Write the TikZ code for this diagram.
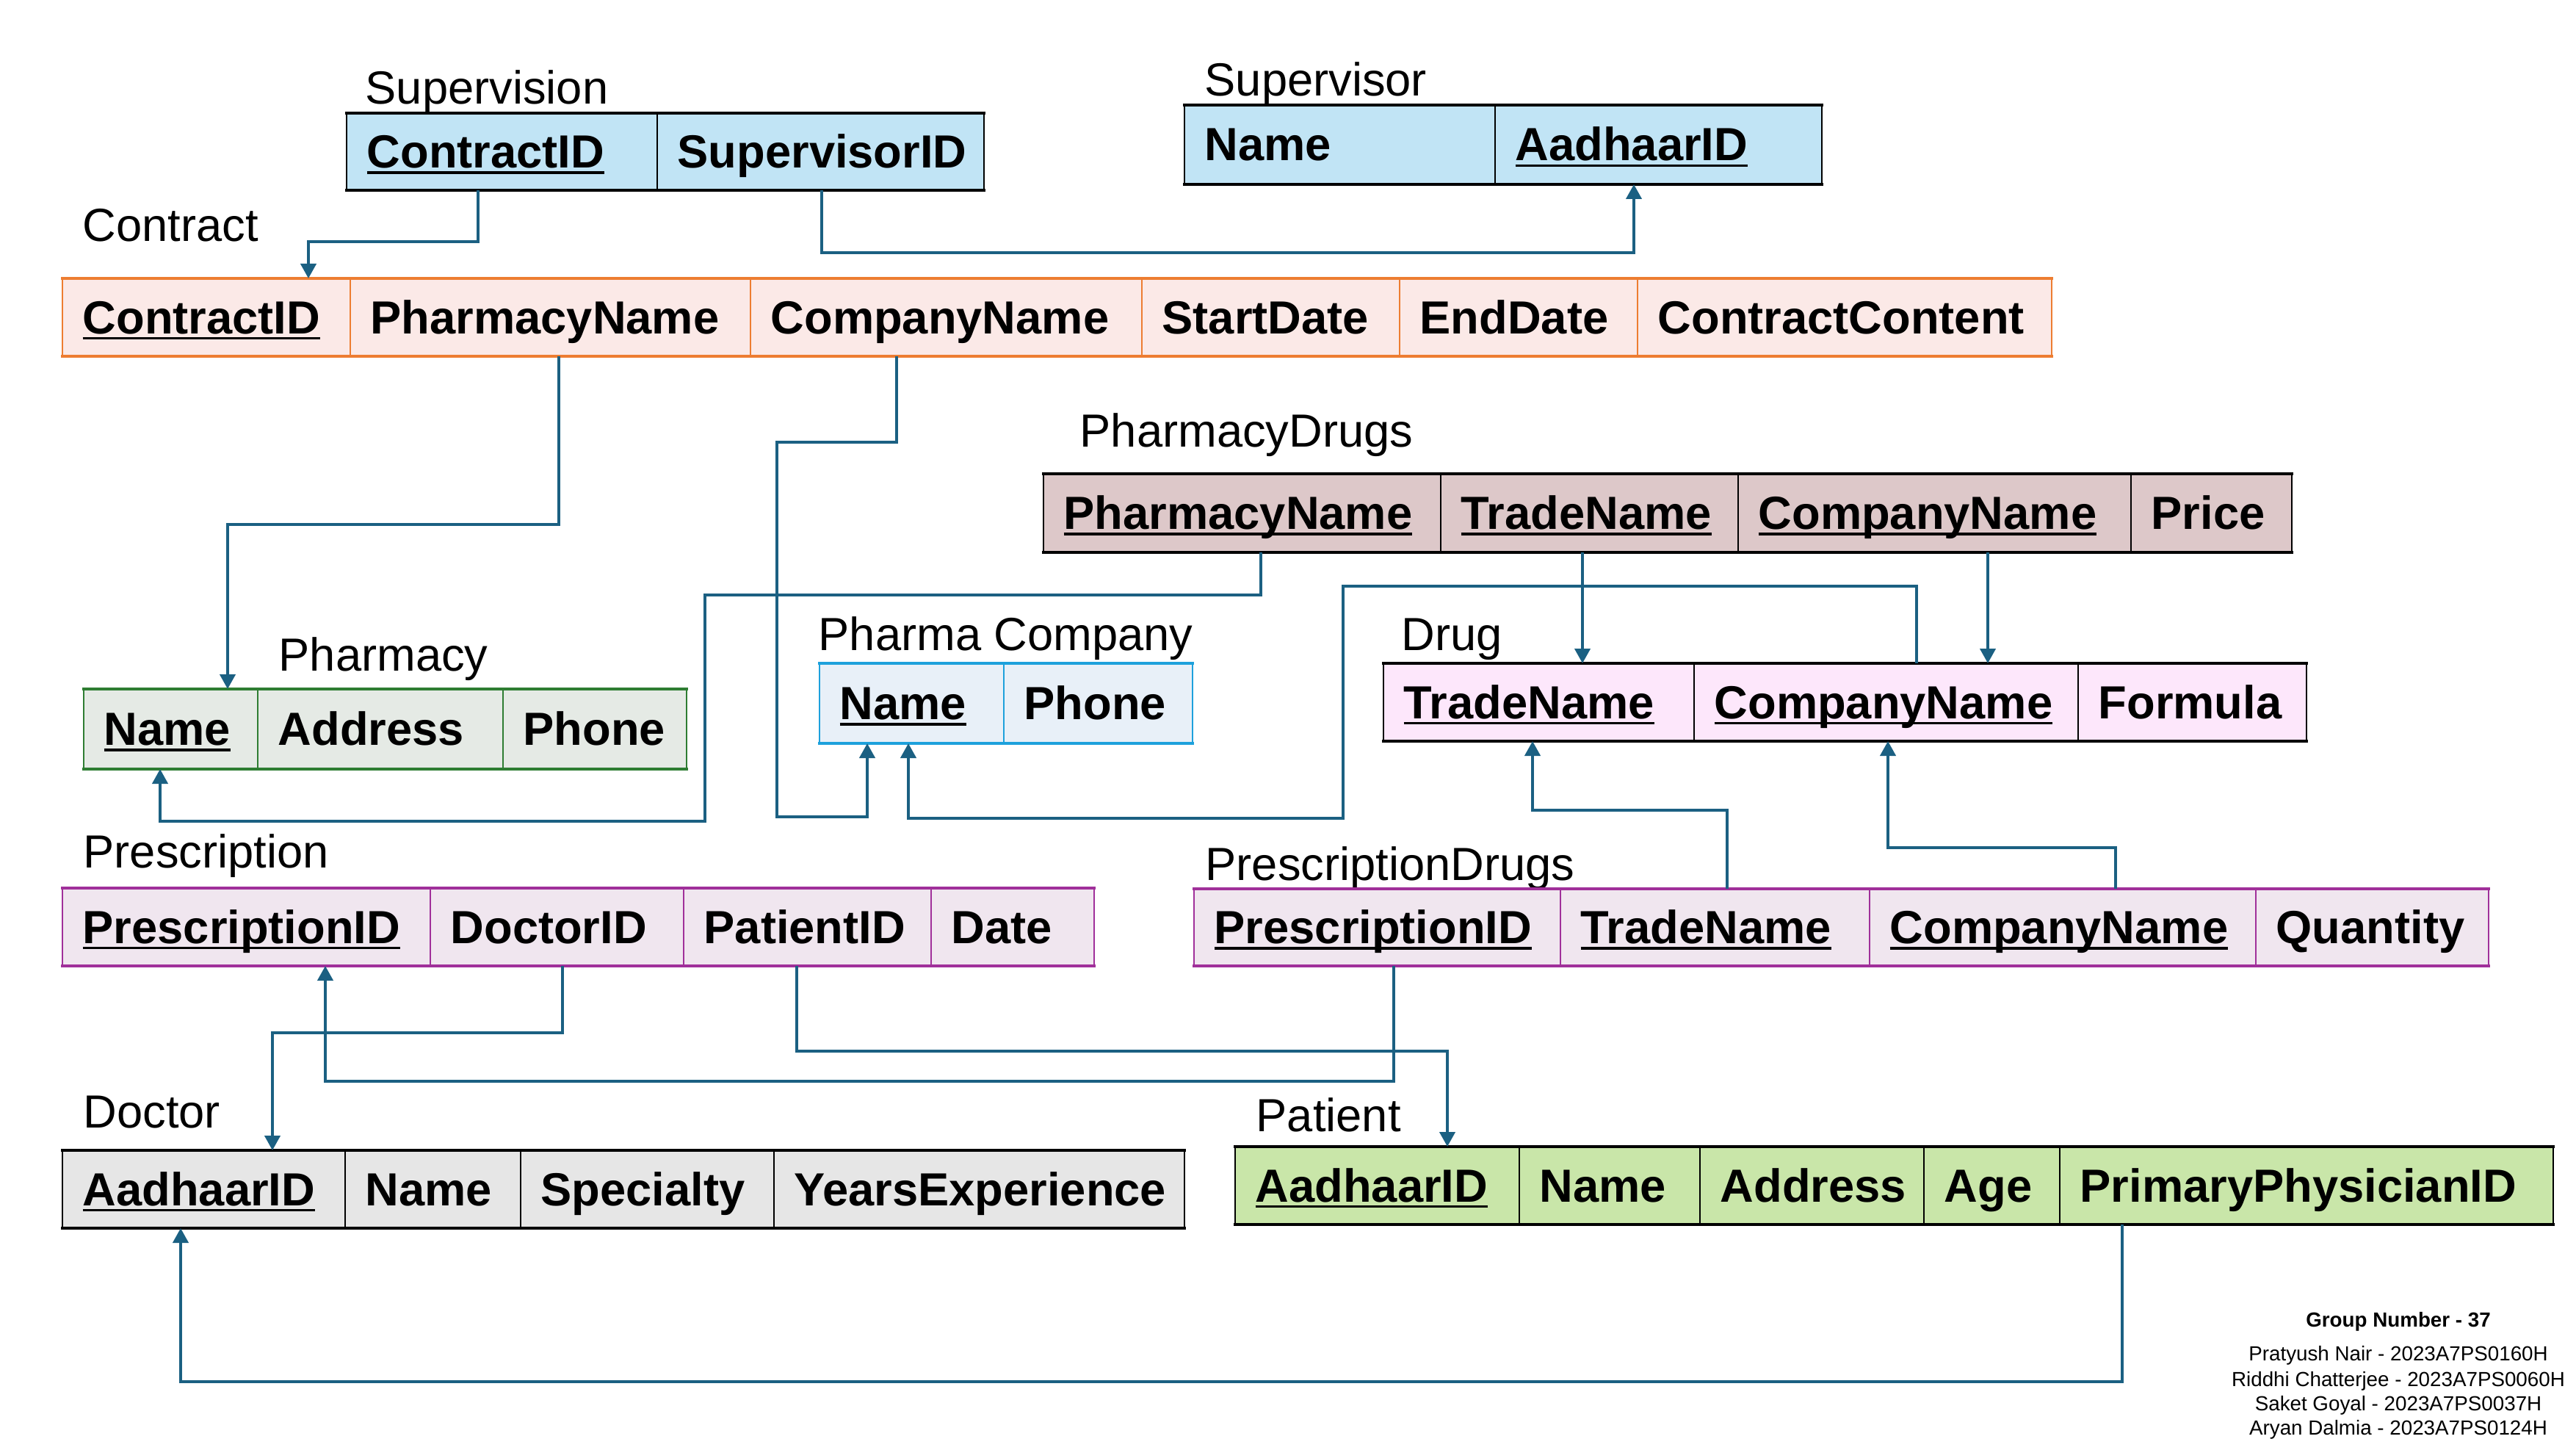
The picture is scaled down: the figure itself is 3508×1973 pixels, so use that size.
\documentclass[tikz,border=0pt]{standalone}
\usepackage{fontspec}
\setmainfont{Liberation Sans}
\usetikzlibrary{calc,arrows.meta}
\definecolor{fkc}{HTML}{1B6082}
\definecolor{supfill}{HTML}{C1E4F5}
\definecolor{confill}{HTML}{FBE9E7}
\definecolor{conbrd}{HTML}{ED7D31}
\definecolor{phfill}{HTML}{E5EAE5}
\definecolor{phbrd}{HTML}{2E7D32}
\definecolor{pcfill}{HTML}{E8F0F8}
\definecolor{pcbrd}{HTML}{1DA1DC}
\definecolor{pdfill}{HTML}{DDC8C9}
\definecolor{drfill}{HTML}{FDE7FB}
\definecolor{prfill}{HTML}{F0E6EF}
\definecolor{prbrd}{HTML}{A0309A}
\definecolor{dcfill}{HTML}{E6E6E6}
\definecolor{ptfill}{HTML}{C9E6A9}
\newcommand\ukey[1]{\setbox0=\hbox{#1}\rlap{\rule[-2.3pt]{\wd0}{0.9pt}}\box0}
\newcommand\tcell[7]{%
  \node[cellbox,#6,minimum width={(#3-#2)*0.1mm},minimum height={(#5-#4)*0.1mm}] (#1) at (#2,#4) {};
  \node[ctext] (#1t) at ($(#1.west)+(27,22)$) {#7};}
\newcommand\tbars[3]{%
  \draw[line width=1.1pt,line cap=rect,#3] (#1.north west) -- (#2.north east);
  \draw[line width=1.1pt,line cap=rect,#3] (#1.south west) -- (#2.south east);}
\begin{document}
\begin{tikzpicture}[x=0.1mm,y=-0.1mm,
  cellbox/.style={draw,line width=0.75pt,anchor=north west,inner sep=0pt,outer sep=0pt},
  ctext/.style={anchor=base west,inner sep=0pt,font=\bfseries\fontsize{18}{20}\selectfont},
  ttl/.style={anchor=base west,inner sep=0pt,font=\fontsize{18}{20}\selectfont},
  sup/.style={fill=supfill,draw=black},
  con/.style={fill=confill,draw=conbrd},
  pha/.style={fill=phfill,draw=phbrd},
  pco/.style={fill=pcfill,draw=pcbrd},
  pdr/.style={fill=pdfill,draw=black},
  drg/.style={fill=drfill,draw=black},
  prs/.style={fill=prfill,draw=prbrd},
  doc/.style={fill=dcfill,draw=black},
  pat/.style={fill=ptfill,draw=black},
  fkline/.style={draw=fkc,line width=1.15pt,-{Triangle[length=2mm,width=2.1mm]}},
  foot/.style={anchor=base,inner sep=0pt,font=\fontsize{7.9}{9.5}\selectfont}]
\useasboundingbox (0,0) rectangle (3508,1973);
\fill[white] (0,0) rectangle (3508,1973);

% Titles
\node[ttl] (tSv) at (497,142) {Supervision};
\node[ttl] (tSu) at (1640,131) {Supervisor};
\node[ttl] (tCo) at (112,328) {Contract};
\node[ttl] (tPd) at (1470,608) {PharmacyDrugs};
\node[ttl] (tPh) at (379,913) {Pharmacy};
\node[ttl] (tPc) at (1114,885) {Pharma Company};
\node[ttl] (tDr) at (1908,885) {Drug};
\node[ttl] (tPr) at (113,1181) {Prescription};
\node[ttl] (tPs) at (1641,1198) {PrescriptionDrugs};
\node[ttl] (tDc) at (113,1535) {Doctor};
\node[ttl] (tPt) at (1710,1540) {Patient};

% Supervision
\tcell{svA}{472}{895}{154}{259}{sup}{\ukey{ContractID}}
\tcell{svB}{895}{1340}{154}{259}{sup}{SupervisorID}
\tbars{svA}{svB}{black}
% Supervisor
\tcell{suA}{1613}{2036}{143}{251}{sup}{Name}
\tcell{suB}{2036}{2481}{143}{251}{sup}{\ukey{AadhaarID}}
\tbars{suA}{suB}{black}
% Contract
\tcell{coA}{85}{477}{379}{485}{con}{\ukey{ContractID}}
\tcell{coB}{477}{1022}{379}{485}{con}{PharmacyName}
\tcell{coC}{1022}{1555}{379}{485}{con}{CompanyName}
\tcell{coD}{1555}{1906}{379}{485}{con}{StartDate}
\tcell{coE}{1906}{2230}{379}{485}{con}{EndDate}
\tcell{coF}{2230}{2794}{379}{485}{con}{ContractContent}
\tbars{coA}{coF}{conbrd}
% PharmacyDrugs
\tcell{pdA}{1421}{1962}{645}{752}{pdr}{\ukey{PharmacyName}}
\tcell{pdB}{1962}{2367}{645}{752}{pdr}{\ukey{TradeName}}
\tcell{pdC}{2367}{2902}{645}{752}{pdr}{\ukey{CompanyName}}
\tcell{pdD}{2902}{3121}{645}{752}{pdr}{Price}
\tbars{pdA}{pdD}{black}
% Pharmacy
\tcell{phA}{114}{351}{938}{1047}{pha}{\ukey{Name}}
\tcell{phB}{351}{685}{938}{1047}{pha}{Address}
\tcell{phC}{685}{935}{938}{1047}{pha}{Phone}
\tbars{phA}{phC}{phbrd}
% Pharma Company
\tcell{pcA}{1116}{1367}{903}{1012}{pco}{\ukey{Name}}
\tcell{pcB}{1367}{1624}{903}{1012}{pco}{Phone}
\tbars{pcA}{pcB}{pcbrd}
% Drug
\tcell{drA}{1884}{2307}{903}{1009}{drg}{\ukey{TradeName}}
\tcell{drB}{2307}{2830}{903}{1009}{drg}{\ukey{CompanyName}}
\tcell{drC}{2830}{3141}{903}{1009}{drg}{Formula}
\tbars{drA}{drC}{black}
% Prescription
\tcell{prA}{85}{586}{1209}{1315}{prs}{\ukey{PrescriptionID}}
\tcell{prB}{586}{931}{1209}{1315}{prs}{DoctorID}
\tcell{prC}{931}{1268}{1209}{1315}{prs}{PatientID}
\tcell{prD}{1268}{1490}{1209}{1315}{prs}{Date}
\tbars{prA}{prD}{prbrd}
% PrescriptionDrugs
\tcell{psA}{1626}{2125}{1210}{1315}{prs}{\ukey{PrescriptionID}}
\tcell{psB}{2125}{2546}{1210}{1315}{prs}{\ukey{TradeName}}
\tcell{psC}{2546}{3072}{1210}{1315}{prs}{\ukey{CompanyName}}
\tcell{psD}{3072}{3389}{1210}{1315}{prs}{Quantity}
\tbars{psA}{psD}{prbrd}
% Doctor
\tcell{dcA}{85}{470}{1566}{1672}{doc}{\ukey{AadhaarID}}
\tcell{dcB}{470}{709}{1566}{1672}{doc}{Name}
\tcell{dcC}{709}{1054}{1566}{1672}{doc}{Specialty}
\tcell{dcD}{1054}{1613}{1566}{1672}{doc}{YearsExperience}
\tbars{dcA}{dcD}{black}
% Patient
\tcell{ptA}{1682}{2069}{1561}{1667}{pat}{\ukey{AadhaarID}}
\tcell{ptB}{2069}{2315}{1561}{1667}{pat}{Name}
\tcell{ptC}{2315}{2620}{1561}{1667}{pat}{Address}
\tcell{ptD}{2620}{2805}{1561}{1667}{pat}{Age}
\tcell{ptE}{2805}{3477}{1561}{1667}{pat}{PrimaryPhysicianID}
\tbars{ptA}{ptE}{black}

% Connectors
\draw[fkline] ($(svA.south west)+(179,0)$) -- ++(0,70) -| ($(coA.north west)+(335,0)$);
\draw[fkline] ($(svB.south west)+(224,0)$) -- ++(0,85) -| ($(suB.south west)+(189,0)$);
\draw[fkline] ($(coB.south west)+(284,0)$) -- ++(0,229) -| ($(phA.north west)+(196,0)$);
\draw[fkline] ($(coC.south west)+(199,0)$) -- ++(0,117) -- ++(-163,0) -- ++(0,510) -| ($(pcA.south west)+(65,0)$);
\draw[fkline] ($(pdA.south west)+(296,0)$) -- ++(0,58) -- ++(-757,0) -- ++(0,308) -| ($(phA.south west)+(104,0)$);
\draw[fkline] ($(pdB.south west)+(193,0)$) -- ($(drA.north west)+(271,0)$);
\draw[fkline] ($(pdC.south west)+(340,0)$) -- ($(drB.north west)+(400,0)$);
\draw[fkline] ($(drB.north west)+(303,0)$) -- ++(0,-105) -- ++(-781,0) -- ++(0,316) -| ($(pcA.south west)+(121,0)$);
\draw[fkline] ($(psB.north west)+(227,0)$) -- ++(0,-107) -| ($(drA.south west)+(203,0)$);
\draw[fkline] ($(psC.north west)+(335,0)$) -- ++(0,-56) -| ($(drB.south west)+(264,0)$);
\draw[fkline] ($(psA.south west)+(272,0)$) -- ++(0,157) -| ($(prA.south west)+(358,0)$);
\draw[fkline] ($(prB.south west)+(180,0)$) -- ++(0,91) -| ($(dcA.north west)+(286,0)$);
\draw[fkline] ($(prC.south west)+(154,0)$) -- ++(0,116) -| ($(ptA.north west)+(289,0)$);
\draw[fkline] ($(ptE.south west)+(85,0)$) -- ++(0,214) -| ($(dcA.south west)+(161,0)$);

% Footer
\node[foot,font=\bfseries\fontsize{7.9}{9.5}\selectfont] (gn) at (3266,1806) {Group Number - 37};
\node[foot] (n1) at (3266,1852) {Pratyush Nair - 2023A7PS0160H};
\node[foot] (n2) at (3266,1887) {Riddhi Chatterjee - 2023A7PS0060H};
\node[foot] (n3) at (3266,1920) {Saket Goyal - 2023A7PS0037H};
\node[foot] (n4) at (3266,1953) {Aryan Dalmia - 2023A7PS0124H};
\end{tikzpicture}
\end{document}
